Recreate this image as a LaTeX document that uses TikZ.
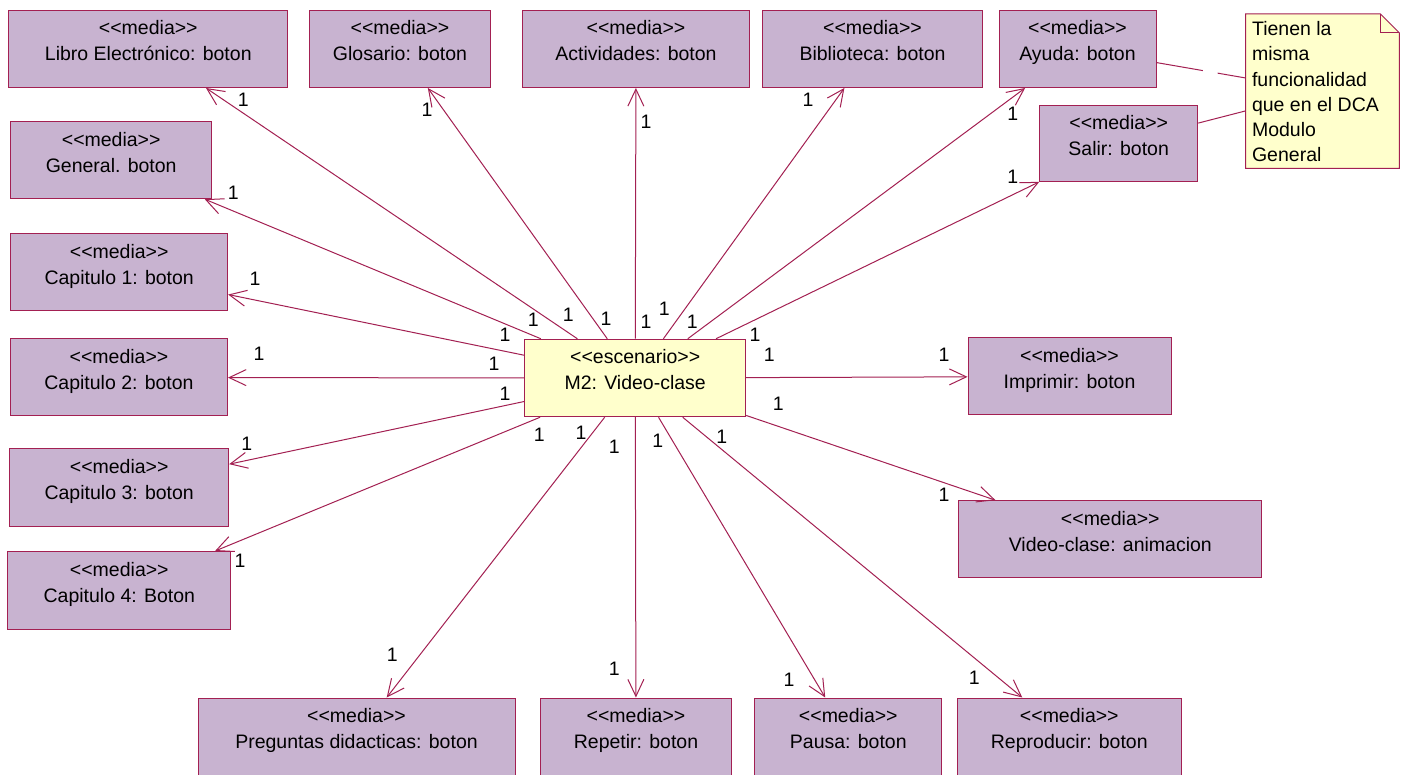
\documentclass[tikz,border=0pt]{standalone}
\usepackage{fontspec}
\setmainfont{Liberation Sans}
\usetikzlibrary{arrows.meta,backgrounds}

\definecolor{edge}{RGB}{163,32,82}
\definecolor{mediafill}{RGB}{200,179,208}
\definecolor{scenefill}{RGB}{255,255,204}

% stereotype text; the kerns keep the doubled brackets from turning into guillemets
\newcommand{\umlst}[1]{\textless\kern0pt\textless #1\textgreater\kern0pt\textgreater}
% two-line class label, top aligned in a box of given width and height
\newcommand{\clsbox}[4]{%
  \begin{minipage}[t][#2][t]{#1}\centering
    \fontsize{19.5}{26}\selectfont
    \rule{0pt}{24.5pt}\umlst{#3}\\#4%
  \end{minipage}}

\tikzset{
  media/.style={draw=edge, fill=mediafill, line width=1pt, inner sep=0pt},
  scene/.style={draw=edge, fill=scenefill, line width=1pt, inner sep=0pt},
  assoc/.style={draw=edge, line width=1pt, -{Straight Barb[length=17pt,width=16pt]}},
  notelink/.style={draw=edge, line width=1pt},
  mult/.style={inner sep=0pt, font=\fontsize{19.5}{22}\selectfont},
}

\begin{document}
\begin{tikzpicture}[x=1pt,y=-1pt]
\useasboundingbox (0,0) rectangle (1409,775);

% central scenario
\node[scene] (esc) at (635.2,378) {\clsbox{221pt}{77.5pt}{escenario}{M2: Video-clase}};

% top row
\node[media] (libro) at (148.3,49) {\clsbox{279pt}{77pt}{media}{Libro Electrónico: boton}};
\node[media] (glosario) at (400,49) {\clsbox{181pt}{77pt}{media}{Glosario: boton}};
\node[media] (activ) at (636,49) {\clsbox{227pt}{77pt}{media}{Actividades: boton}};
\node[media] (biblio) at (872.5,49) {\clsbox{220pt}{77pt}{media}{Biblioteca: boton}};
\node[media] (ayuda) at (1077.5,49) {\clsbox{157pt}{77pt}{media}{Ayuda: boton}};
\node[media] (salir) at (1118.7,143.5) {\clsbox{158pt}{76pt}{media}{Salir: boton}};

% left column
\node[media] (general) at (111.2,160.2) {\clsbox{201pt}{77pt}{media}{General. boton}};
\node[media] (cap1) at (119.2,272.2) {\clsbox{217pt}{77pt}{media}{Capitulo 1: boton}};
\node[media] (cap2) at (119,377.5) {\clsbox{217pt}{77pt}{media}{Capitulo 2: boton}};
\node[media] (cap3) at (119.2,487.5) {\clsbox{219pt}{77pt}{media}{Capitulo 3: boton}};
\node[media] (cap4) at (119.3,590.5) {\clsbox{223pt}{78pt}{media}{Capitulo 4: Boton}};

% right side
\node[media] (imprimir) at (1069.5,376.5) {\clsbox{203pt}{77pt}{media}{Imprimir: boton}};
\node[media] (anim) at (1110.3,539.2) {\clsbox{303pt}{77pt}{media}{Video-clase: animacion}};

% bottom row
\node[media] (preg) at (356.5,736.5) {\clsbox{317pt}{77pt}{media}{Preguntas didacticas: boton}};
\node[media] (repetir) at (636,736.5) {\clsbox{191pt}{77pt}{media}{Repetir: boton}};
\node[media] (pausa) at (848.3,736.5) {\clsbox{187pt}{77pt}{media}{Pausa: boton}};
\node[media] (repro) at (1069.3,736.5) {\clsbox{224pt}{77pt}{media}{Reproducir: boton}};

% note with folded corner
\node[inner sep=0pt] (note) at (1322.5,91.2) {%
  \begin{minipage}[t][154pt][t]{153.5pt}\raggedright
    \fontsize{19.5}{25.3}\selectfont\leftskip=6.3pt
    \rule{0pt}{21.3pt}Tienen la\\misma\\funcionalidad\\que en el DCA\\Modulo\\General
  \end{minipage}};
\begin{scope}[on background layer]
  \fill[white] (0,0) rectangle (1409,775);
  \filldraw[draw=edge, fill=scenefill, line width=1pt]
    (note.north west) -- ([xshift=-19pt]note.north east)
    -- ([yshift=-19pt]note.north east) -- (note.south east)
    -- (note.south west) -- cycle;
  \draw[edge, line width=1pt] ([xshift=-19pt]note.north east)
    -- ([xshift=-19pt,yshift=-19pt]note.north east)
    -- ([yshift=-19pt]note.north east);
\end{scope}

% note attachments
\draw[notelink, dash pattern=on 47pt off 15pt] (ayuda) -- (note);
\draw[notelink] (salir) -- (note);

% associations from the scenario
\foreach \t in {libro,glosario,activ,biblio,ayuda,salir,general,cap1,cap2,cap3,cap4,
                imprimir,anim,preg,repetir,pausa,repro}
  \draw[assoc] (esc) -- (\t);

% multiplicities at the target ends
\node[mult] (m1) at (243.3,99.3) {1};
\node[mult] (m2) at (427,110) {1};
\node[mult] (m3) at (646,122) {1};
\node[mult] (m4) at (808,100) {1};
\node[mult] (m5) at (1012.7,113.3) {1};
\node[mult] (m6) at (1012.7,176.7) {1};
\node[mult] (m7) at (233.3,192.3) {1};
\node[mult] (m8) at (255,278.3) {1};
\node[mult] (m9) at (259,354) {1};
\node[mult] (m10) at (246.7,444) {1};
\node[mult] (m11) at (240,560.7) {1};
\node[mult] (m12) at (944,355) {1};
\node[mult] (m13) at (944,495) {1};
\node[mult] (m14) at (392.3,655) {1};
\node[mult] (m15) at (614.3,668.3) {1};
\node[mult] (m16) at (789,680) {1};
\node[mult] (m17) at (974.3,677.7) {1};

% multiplicities at the scenario end
\node[mult] (s1) at (533.3,320) {1};
\node[mult] (s2) at (568.3,315) {1};
\node[mult] (s3) at (606,318.3) {1};
\node[mult] (s4) at (646,321.7) {1};
\node[mult] (s5) at (664.3,308.3) {1};
\node[mult] (s6) at (692.3,321.7) {1};
\node[mult] (s7) at (755,335) {1};
\node[mult] (s8) at (505,335) {1};
\node[mult] (s9) at (494,364) {1};
\node[mult] (s10) at (505,394) {1};
\node[mult] (s11) at (769.3,355) {1};
\node[mult] (s12) at (778.3,403.3) {1};
\node[mult] (s13) at (539.3,434.3) {1};
\node[mult] (s14) at (581,432.3) {1};
\node[mult] (s15) at (614.3,446.7) {1};
\node[mult] (s16) at (657.7,440.7) {1};
\node[mult] (s17) at (721.7,436.7) {1};
\end{tikzpicture}
\end{document}
